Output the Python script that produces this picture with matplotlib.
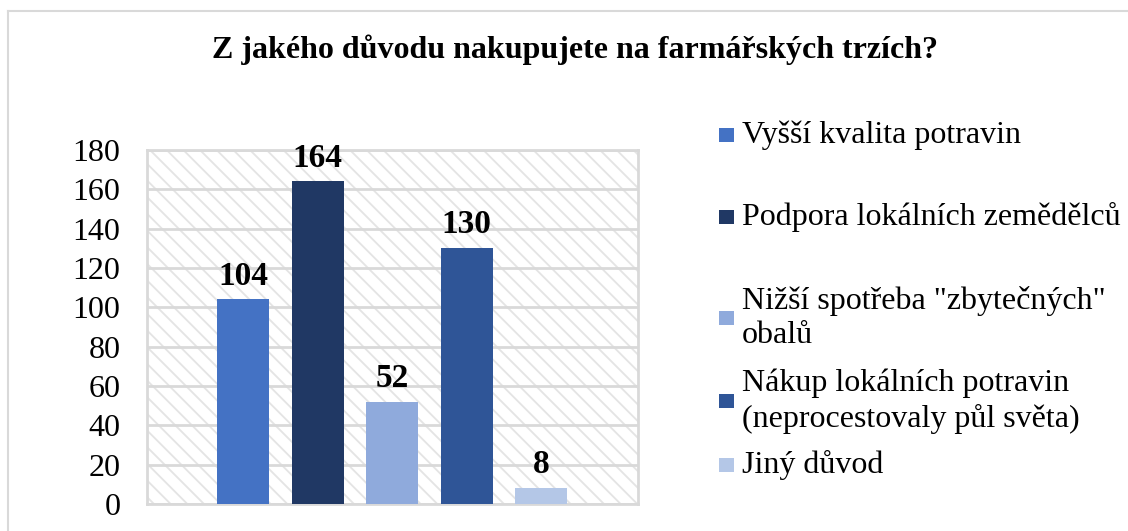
import matplotlib
matplotlib.use('Agg')
import matplotlib.pyplot as plt
from matplotlib.patches import Rectangle
from matplotlib.lines import Line2D

# Data
labels = ['Vyšší kvalita potravin',
          'Podpora lokálních zemědělců',
          'Nižší spotřeba "zbytečných"\nobalů',
          'Nákup lokálních potravin\n(neprocestovaly půl světa)',
          'Jiný důvod']
values = [104, 164, 52, 130, 8]
colors = ['#4472C4', '#203864', '#8FAADC', '#2F5597', '#B4C7E7']
title = 'Z jakého důvodu nakupujete na farmářských trzích?'
yticks = [0, 20, 40, 60, 80, 100, 120, 140, 160, 180]

plt.rcParams['font.family'] = ['Liberation Serif', 'DejaVu Serif']
plt.rcParams['hatch.linewidth'] = 1.3
plt.rcParams['hatch.color'] = '#e4e4e4'

W, H = 1128, 531
fig = plt.figure(figsize=(W / 100, H / 100), dpi=100)

# outer chart border (only top/left visible)
fig.add_artist(Line2D([8 / W, 8 / W], [0, 1 - 11 / H], transform=fig.transFigure,
                      color='#d9d9d9', lw=1.5))
fig.add_artist(Line2D([8 / W, 1], [1 - 11 / H, 1 - 11 / H], transform=fig.transFigure,
                      color='#d9d9d9', lw=1.5))

ax = fig.add_axes([147 / W, 1 - 504 / H, (638 - 147) / W, (504 - 150) / H])

# hatched plot background
ax.add_patch(Rectangle((0, 0), 1, 1, transform=ax.transAxes, facecolor='white',
                       hatch='\\\\', edgecolor='#e4e4e4', lw=0, zorder=0))

x = list(range(len(values)))
ax.bar(x, values, width=0.7, color=colors, zorder=3)
for xi, v in zip(x, values):
    ax.text(xi, v + 4, str(v), ha='center', va='bottom', fontsize=24,
            fontweight='bold', zorder=4)

ax.set_xlim(-1.29, 5.30)
ax.set_ylim(0, 180)
ax.set_yticks(yticks)
ax.set_xticks([])
ax.tick_params(axis='y', length=0, labelsize=23, pad=19)
ax.grid(axis='y', color='#d9d9d9', lw=2, zorder=1)
ax.set_axisbelow(True)
for s in ax.spines.values():
    s.set_color('#d9d9d9')
    s.set_linewidth(2)

fig.text(575 / W, 1 - 50 / H, title, ha='center', va='center', fontsize=23,
         fontweight='bold')

# legend (placed by hand to mimic Excel spacing)
leg_y = [135, 217, 318, 401, 465]
for lab, c, yy in zip(labels, colors, leg_y):
    fig.add_artist(Rectangle((719 / W, 1 - (yy + 7) / H), 15 / W, 14 / H,
                             transform=fig.transFigure, facecolor=c, lw=0))
    fig.text(742 / W, 1 - yy / H, lab, ha='left', va='center', fontsize=23,
             linespacing=1.25)

fig.savefig('out.png', dpi=100)
